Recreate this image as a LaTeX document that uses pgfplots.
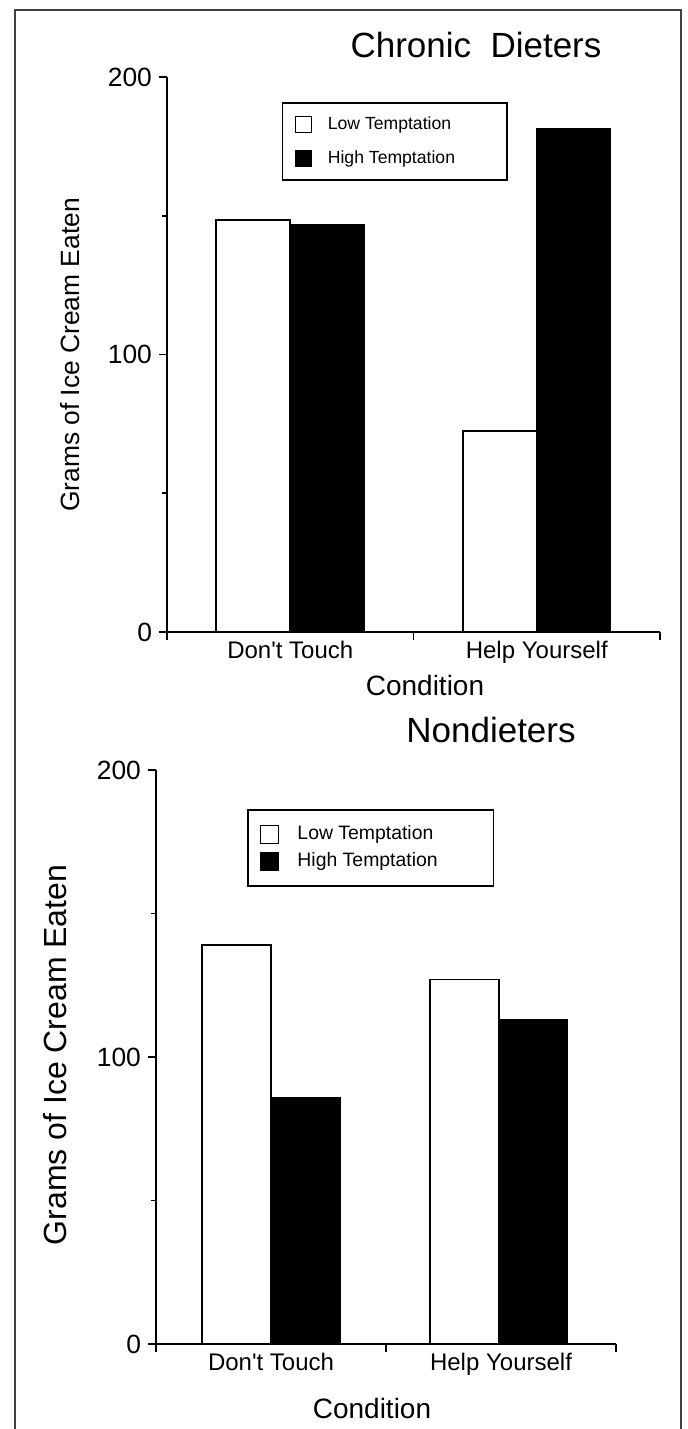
\documentclass[border=0pt]{standalone}
\usepackage{pgfplots}
\pgfplotsset{compat=1.18}
\usepackage{fontspec}
\setmainfont{Liberation Sans}[Ligatures=TeXOff]
\pgfplotsset{
  mypanel/.style={
    scale only axis,
    xmin=0, xmax=2, ymin=0, ymax=200,
    axis x line=bottom, axis y line=left,
    axis line style={-, line width=0.8pt, black},
    xtick={0,1,2}, xticklabels={},
    extra x ticks={0.5,1.5},
    extra x tick labels={Don't Touch, Help Yourself},
    extra x tick style={major tick length=0pt, xticklabel style={font=\fontsize{12}{13}\selectfont, yshift=-1pt}},
    ytick={0,100,200}, minor ytick={50,150},
    tick align=outside,
    major tick length=4pt, minor tick length=2.5pt,
    every tick/.style={black, line width=0.8pt},
    yticklabel style={font=\fontsize{13.2}{14}\selectfont},
    /pgf/number format/assume math mode=true,
    clip=false,
  },
  lowbar/.style={ybar, bar width=0.3, bar shift=0pt, fill=white, draw=black, line width=0.9pt},
  highbar/.style={ybar, bar width=0.3, bar shift=0pt, fill=black, draw=black, line width=0.5pt},
}
\begin{document}
\begin{tikzpicture}[x=0.5pt,y=0.5pt]
\useasboundingbox (0,0) rectangle (688,1429);
\draw[line width=0.9pt, black!75] (15,-6) -- (15,1419) -- (681,1419) -- (681,-6);

% ---------- Chronic Dieters ----------
\begin{axis}[mypanel,
  at={(83.5pt,398.5pt)}, anchor=south west,
  width=246.5pt, height=277.5pt,
  legend style={at={(0.233,0.955)}, anchor=north west, draw=black, line width=0.8pt,
    font=\fontsize{8.8}{10}\selectfont, legend cell align=left,
    row sep=5pt, inner xsep=6pt, inner ysep=5pt,
    /tikz/every odd column/.append style={column sep=6pt}},
]
\addplot[lowbar, legend image code/.code={\draw[fill=white, draw=black, line width=0.6pt] (0pt,-4pt) rectangle (8pt,4pt);}] coordinates {(0.35,148.5) (1.35,72.4)};
\addlegendentry{Low Temptation\hspace*{18pt}}
\addplot[highbar, legend image code/.code={\draw[fill=black, draw=black, line width=0.6pt] (0pt,-4pt) rectangle (8pt,4pt);}] coordinates {(0.65,146.7) (1.65,181.6)};
\addlegendentry{High Temptation\hspace*{18pt}}
\end{axis}
\node[font=\fontsize{17.5}{20}\selectfont] at (476,1384) {Chronic~ Dieters};
\node[font=\fontsize{13.2}{15}\selectfont, rotate=90] at (70,1074) {Grams of Ice Cream Eaten};
\node[font=\fontsize{14}{16}\selectfont] at (425,743) {Condition};

% ---------- Nondieters ----------
\begin{axis}[mypanel,
  at={(78pt,42.5pt)}, anchor=south west,
  width=230pt, height=287pt,
  legend style={at={(0.198,0.932)}, anchor=north west, draw=black, line width=0.8pt,
    font=\fontsize{9.7}{11}\selectfont, legend cell align=left,
    row sep=1pt, inner xsep=6pt, inner ysep=6pt,
    /tikz/every odd column/.append style={column sep=7pt}},
]
\addplot[lowbar, legend image code/.code={\draw[fill=white, draw=black, line width=0.6pt] (0pt,-4.6pt) rectangle (9.2pt,4.6pt);}] coordinates {(0.35,139) (1.34,127)};
\addlegendentry{Low Temptation\hspace*{20pt}}
\addplot[highbar, legend image code/.code={\draw[fill=black, draw=black, line width=0.6pt] (0pt,-4.6pt) rectangle (9.2pt,4.6pt);}] coordinates {(0.65,86) (1.64,113)};
\addlegendentry{High Temptation\hspace*{20pt}}
\end{axis}
\node[font=\fontsize{17.5}{20}\selectfont] at (491,699) {Nondieters};
\node[font=\fontsize{16}{18}\selectfont, rotate=90] at (55,374) {Grams of Ice Cream Eaten};
\node[font=\fontsize{14}{16}\selectfont] at (372,21) {Condition};
\end{tikzpicture}
\end{document}
